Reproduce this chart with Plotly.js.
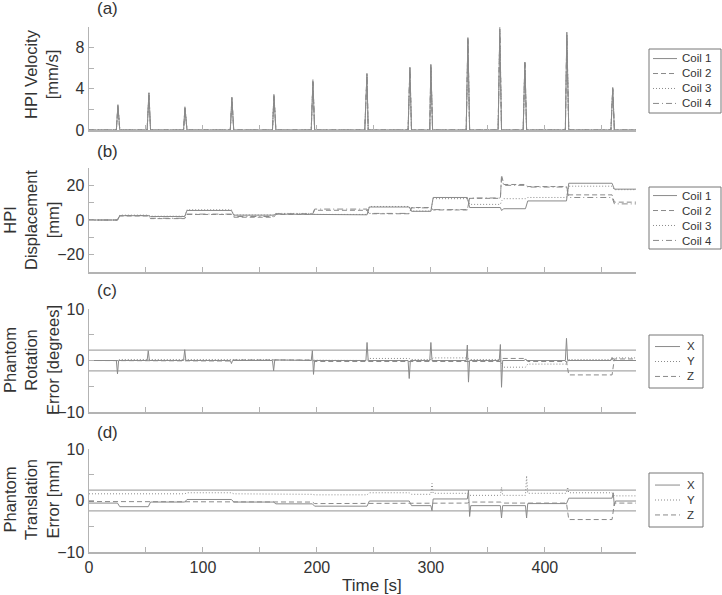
<!DOCTYPE html>
<html>
<head>
<meta charset="utf-8">
<script src="https://cdn.plot.ly/plotly-3.0.1.min.js"></script>
<style>
  body { margin: 0; background: #fff; }
  #plot { width: 722px; height: 595px; }
</style>
</head>
<body>
<div id="plot"></div>
<script>
// time axis range [s]
var xRange = [0, 480];

// (a) HPI velocity [mm/s], spikes at each phantom move
var velTime = [0, 24, 25.4, 27, 51, 52.6, 54, 83, 84.2, 86, 124, 125.4, 127, 161, 162.3, 164,
  195, 196.5, 198, 242, 243.9, 245, 280, 281.6, 283, 299, 300, 301.5, 331, 332.5, 334,
  359, 360.5, 362, 381, 382.5, 384, 418, 419.3, 421, 458, 459.6, 461, 480];
var vel1 = [0, 0,2.4,0, 0,3.6,0, 0,2.2,0, 0,3.1,0, 0,3.4,0, 0,4.7,0, 0,5.4,0, 0,6.0,0, 0,6.3,0, 0,8.8,0, 0,9.3,0, 0,6.5,0, 0,9.5,0, 0,4.1,0, 0];
var vel2 = [0, 0,2.5,0, 0,3.5,0, 0,2.1,0, 0,3.2,0, 0,3.3,0, 0,4.9,0, 0,5.5,0, 0,6.1,0, 0,6.4,0, 0,9.0,0, 0,10.0,0, 0,6.7,0, 0,9.2,0, 0,4.2,0, 0];
var vel3 = [0, 0,2.3,0, 0,3.7,0, 0,2.3,0, 0,3.0,0, 0,3.5,0, 0,4.8,0, 0,5.2,0, 0,5.8,0, 0,6.1,0, 0,8.6,0, 0,9.6,0, 0,6.3,0, 0,9.0,0, 0,4.0,0, 0];
var vel4 = [0, 0,2.2,0, 0,3.4,0, 0,2.0,0, 0,2.9,0, 0,3.2,0, 0,4.6,0, 0,5.3,0, 0,5.9,0, 0,6.2,0, 0,8.9,0, 0,9.8,0, 0,6.6,0, 0,9.3,0, 0,3.9,0, 0];

// (b) HPI displacement [mm]
var dispTime = [0, 25, 27, 52, 54, 84, 86, 125, 127, 162, 164, 196, 198, 244, 246, 281, 283,
  300, 302, 332, 334, 361, 362, 364, 383, 385, 419, 421, 459, 461, 480];
var disp1 = [0,0,2.5,2.5,2.0,2.0,5.5,5.5,2.8,2.8,3.4,3.4,3.0,3.0,7.5,7.5,5.0,5.0,13.0,13.0,7.2,7.2,5.5,6.5,6.5,11.0,11.0,21.2,21.2,17.8,17.8];
var disp2 = [0,0,2.3,2.3,0.8,0.8,3.2,3.2,1.6,1.6,3.2,3.2,5.6,5.6,3.6,3.6,7.2,7.2,5.8,5.8,12.5,12.5,26.0,20.5,20.5,19.3,19.3,14.5,14.5,10.3,10.3];
var disp3 = [0,0,2.8,2.8,2.2,2.2,5.9,5.9,2.9,2.9,3.8,3.8,3.2,3.2,7.8,7.8,5.2,5.2,12.3,12.3,9.0,9.0,11.0,12.3,12.3,13.0,13.0,19.5,19.5,17.5,17.5];
var disp4 = [0,0,2.6,2.6,1.0,1.0,3.4,3.4,2.0,2.0,3.6,3.6,6.3,6.3,3.8,3.8,7.0,7.0,6.0,6.0,12.7,12.7,24.0,20.0,20.0,19.0,19.0,13.0,13.0,9.3,9.3];

// shared step times for the error plots
var stepTime = [0, 25, 27, 52, 54, 84, 86, 125, 127, 162, 164, 196, 198, 244, 246, 281, 283,
  300, 302, 332, 334, 361, 363, 383, 385, 419, 421, 459, 461, 480];

// (c) phantom rotation error [degrees]
var rotXTime = [0, 24, 25, 26, 51, 52, 53, 83, 84, 85, 124, 125, 126, 161, 162, 163, 195, 196, 197, 198,
  243, 244, 245, 280, 281, 282, 299, 300, 301, 331, 332, 333, 334, 360, 361, 362, 363,
  382, 383, 384, 418, 419, 420, 458, 459, 460, 480];
var rotX = [0, 0,-2.6,0, 0,1.9,0, 0,2.1,0, 0,-0.6,0, 0,-2.0,0.1, 0,1.9,-2.7,0,
  0,3.5,0, 0,-3.5,0, 0,3.5,0, 0,3.0,-4.2,0, 0,3.1,-5.2,0,
  0,0.3,0, 0,4.3,0, 0,0.6,0, 0];
var rotY = [0,0,0.2,0.2,0.2,0.2,0.3,0.3,0.2,0.2,0.1,0.1,0,0,0.4,0.4,0.2,0.2,0.5,0.5,0.2,0.2,-1.3,-1.3,-0.7,-0.7,0.2,0.2,0.5,0.5];
var rotZ = [0,0,-0.1,-0.1,0,0,-0.1,-0.1,0.1,0.1,0.1,0.1,-0.2,-0.2,-0.1,-0.1,-0.2,-0.2,-0.1,-0.1,-0.2,-0.2,0.4,0.4,-0.2,-0.2,-2.8,-2.8,0.3,0.3];

// (d) phantom translation error [mm]
var transXTime = [0, 25, 27, 52, 54, 84, 86, 125, 127, 162, 164, 196, 198, 244, 246, 281, 283,
  300, 301, 302, 332, 333, 334, 335, 361, 362, 363, 383, 384, 385, 419, 421, 459, 460, 461, 462, 480];
var transX = [-0.5,-0.5,-1.2,-1.2,-0.3,-0.3,0.2,0.2,-0.3,-0.3,-0.65,-0.65,-1.1,-1.1,-0.1,-0.1,-1.0,
  -1.0,-2.0,0.3,0.3,2.0,-3.1,-1.0,-1.0,-3.4,-1.0,-1.0,-3.4,-0.6,-0.6,0.45,0.45,1.5,-1.0,-0.1,-0.1];
var transYTime = [0, 25, 27, 52, 54, 84, 86, 125, 127, 162, 164, 196, 198, 244, 246, 281, 283,
  300, 301, 302, 332, 334, 361, 362, 363, 383, 384, 385, 419, 420, 421, 459, 461, 480];
var transY = [1.3,1.3,1.4,1.4,1.3,1.3,1.5,1.5,1.3,1.3,1.2,1.2,1.1,1.1,1.5,1.5,1.2,
  1.2,3.3,1.4,1.4,1.0,1.0,2.6,1.0,1.0,4.8,1.4,1.4,2.6,1.5,1.5,0.9,0.9];
var transZ = [-0.2,-0.2,-0.2,-0.2,-0.3,-0.3,-0.3,-0.3,-0.2,-0.2,-0.3,-0.3,-0.6,-0.6,-0.5,-0.5,-0.5,-0.5,-0.5,-0.5,-0.3,-0.3,-0.5,-0.5,-0.5,-0.5,-3.7,-3.7,-0.5,-0.5];

// +/- error limits drawn on (c) and (d)
var errorLimits = [2, -2];

var coilNames = ["Coil 1", "Coil 2", "Coil 3", "Coil 4"];
var axisNames = ["X", "Y", "Z"];

var lineColor = "#8a8a8a";
var styles = ["solid", "5px,3px", "1px,2px", "6px,3px,1px,3px"];

function line(x, y, name, i, xa, ya) {
  return {
    x: x, y: y, name: name, type: "scatter", mode: "lines",
    xaxis: xa, yaxis: ya, showlegend: false,
    line: {color: lineColor, width: 1, dash: styles[i]}
  };
}

var traces = [];
[vel1, vel2, vel3, vel4].forEach(function (v, i) {
  traces.push(line(velTime, v, coilNames[i], i, "x", "y"));
});
[disp1, disp2, disp3, disp4].forEach(function (v, i) {
  traces.push(line(dispTime, v, coilNames[i], i, "x2", "y2"));
});

// limit lines
["y3", "y4"].forEach(function (ya, k) {
  errorLimits.forEach(function (lim) {
    traces.push({
      x: xRange, y: [lim, lim], type: "scatter", mode: "lines", showlegend: false,
      xaxis: "x" + (k + 3), yaxis: ya, hoverinfo: "skip",
      line: {color: "#a8a8a8", width: 1.3}
    });
  });
});

traces.push(line(rotXTime, rotX, axisNames[0], 0, "x3", "y3"));
traces.push(line(stepTime, rotY, axisNames[1], 2, "x3", "y3"));
traces.push(line(stepTime, rotZ, axisNames[2], 1, "x3", "y3"));

traces.push(line(transXTime, transX, axisNames[0], 0, "x4", "y4"));
traces.push(line(transYTime, transY, axisNames[1], 2, "x4", "y4"));
traces.push(line(stepTime, transZ, axisNames[2], 1, "x4", "y4"));

var W = 722, H = 595;
function px(x) { return x / W; }
function py(y) { return 1 - y / H; }

var axCommon = {
  showline: true, linecolor: "#b3b3b3", linewidth: 1.5,
  showgrid: false, zeroline: false,
  ticks: "inside", ticklen: 5, tickcolor: "#b3b3b3", tickwidth: 1,
  tickfont: {size: 16, color: "#333"}
};

function xAxis(anchor, labels) {
  return Object.assign({}, axCommon, {
    domain: [px(89), px(636)], anchor: anchor, range: xRange,
    dtick: 100, showticklabels: labels,
    minor: {dtick: 50, ticks: "inside", ticklen: 5, tickcolor: "#b3b3b3"}
  });
}
function yAxis(anchor, top, bottom, range, dtick, minor) {
  return Object.assign({}, axCommon, {
    domain: [py(bottom), py(top)], anchor: anchor, range: range, dtick: dtick,
    minor: {dtick: minor, ticks: "inside", ticklen: 5, tickcolor: "#b3b3b3"}
  });
}

function ann(text, x, y, angle, size, xanchor) {
  return {
    text: text, xref: "paper", yref: "paper", x: px(x), y: py(y),
    showarrow: false, xanchor: xanchor || "center", yanchor: "middle",
    align: xanchor || "center",
    textangle: angle || 0, font: {size: size || 17, color: "#333"}
  };
}

// compact boxed legends, MATLAB style: one text block per box
var shapes = [];
var annotations = [];
var legFont = 11.5;
var legRow = legFont * 1.3;
function legendBox(names, styleIdx, left, right, top, bottom, sample, textX) {
  shapes.push({
    type: "rect", xref: "paper", yref: "paper",
    x0: px(left), x1: px(right), y0: py(bottom), y1: py(top),
    line: {color: "#777", width: 1}, fillcolor: "#fff", layer: "above"
  });
  var mid = (top + bottom) / 2;
  names.forEach(function (n, i) {
    var ry = mid + (i - (names.length - 1) / 2) * legRow;
    shapes.push({
      type: "line", xref: "paper", yref: "paper",
      x0: px(sample[0]), x1: px(sample[1]), y0: py(ry), y1: py(ry),
      line: {color: lineColor, width: 1, dash: styles[styleIdx[i]]}, layer: "above"
    });
  });
  annotations.push(ann(names.join("<br>"), textX, mid, 0, legFont, "left"));
}

legendBox(coilNames, [0, 1, 2, 3], 649, 721, 49, 113, [653, 677], 680);
legendBox(coilNames, [0, 1, 2, 3], 649, 721, 187, 249, [653, 677], 680);
legendBox(axisNames, [0, 2, 1], 649, 703, 335, 388, [655, 680], 685);
legendBox(axisNames, [0, 2, 1], 649, 703, 473, 527, [655, 680], 685);

annotations.push(
  ann("(a)", 107, 9), ann("(b)", 107, 151), ann("(c)", 107, 290), ann("(d)", 107, 432),
  ann("Time [s]", 372, 585),
  ann("HPI Velocity<br>[mm/s]", 41, 74, -90, 16.5),
  ann("HPI<br>Displacement<br>[mm]", 31, 220, -90, 16.5),
  ann("Phantom<br>Rotation<br>Error [degrees]", 31, 360, -90, 16.5),
  ann("Phantom<br>Translation<br>Error [mm]", 31, 500, -90, 16.5)
);

var layout = {
  width: W, height: H,
  margin: {l: 0, r: 0, t: 0, b: 0},
  paper_bgcolor: "#fff", plot_bgcolor: "#fff",
  font: {family: "Liberation Sans, Arial, sans-serif", color: "#333"},
  xaxis: xAxis("y", false),
  xaxis2: xAxis("y2", false),
  xaxis3: xAxis("y3", false),
  xaxis4: xAxis("y4", true),
  yaxis: yAxis("x", 27, 130, [0, 10], 4, 2),
  yaxis2: yAxis("x2", 168, 272, [-30, 30], 20, 10),
  yaxis3: yAxis("x3", 309, 412, [-10, 10], 10, 5),
  yaxis4: yAxis("x4", 449, 552, [-10, 10], 10, 5),
  shapes: shapes,
  annotations: annotations,
  showlegend: false
};

Plotly.newPlot("plot", traces, layout, {displayModeBar: false, staticPlot: true});
</script>
</body>
</html>
